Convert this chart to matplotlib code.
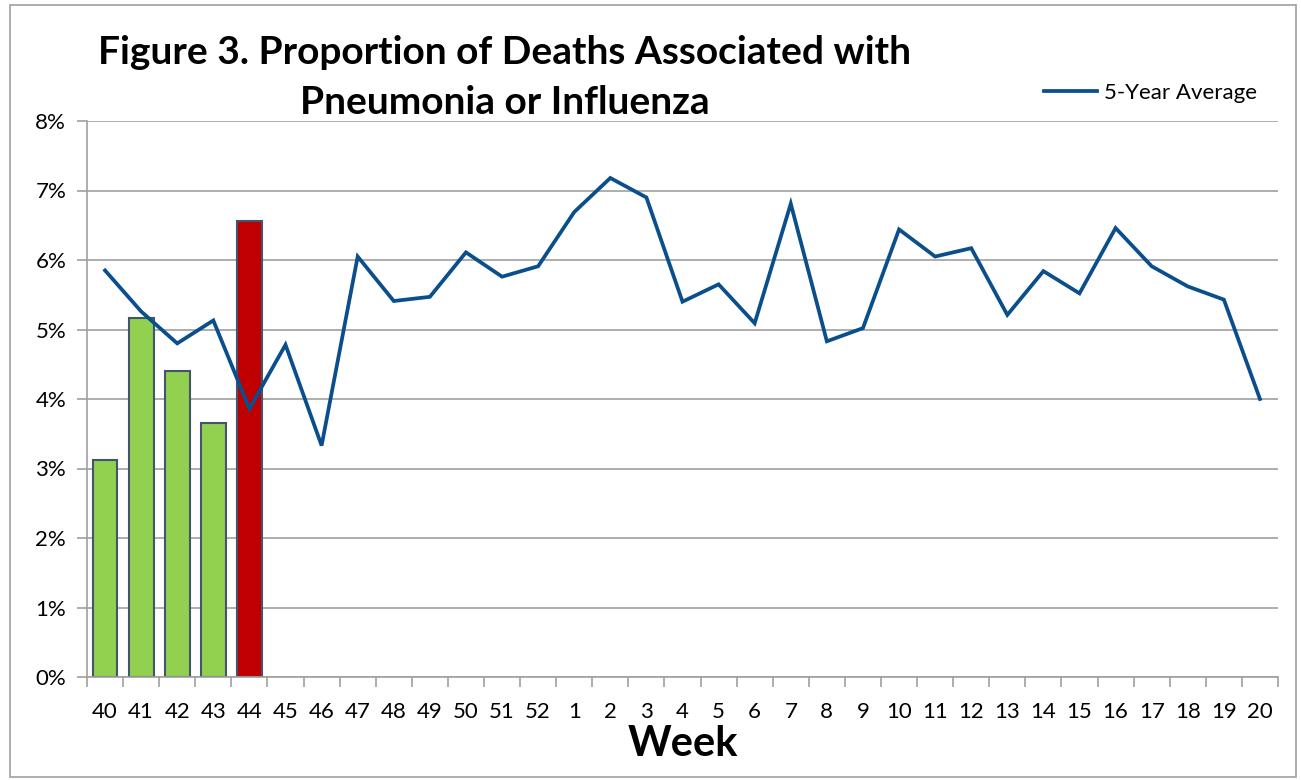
import matplotlib
matplotlib.use("Agg")
import matplotlib.pyplot as plt
from matplotlib.patches import Rectangle
from matplotlib.ticker import FuncFormatter, MultipleLocator
import numpy as np

weeks = ["40", "41", "42", "43", "44", "45", "46", "47", "48", "49", "50", "51", "52",
         "1", "2", "3", "4", "5", "6", "7", "8", "9", "10", "11", "12", "13", "14",
         "15", "16", "17", "18", "19", "20"]
current_season = [3.12, 5.17, 4.41, 3.66, 6.56]
bar_colors = ["#92d050", "#92d050", "#92d050", "#92d050", "#c00000"]
five_year_avg = [5.85, 5.26, 4.80, 5.13, 3.86, 4.78, 3.33, 6.05, 5.41, 5.47, 6.11, 5.76,
                 5.91, 6.69, 7.18, 6.90, 5.40, 5.65, 5.09, 6.81, 4.83, 5.02, 6.44, 6.05,
                 6.17, 5.21, 5.84, 5.52, 6.46, 5.91, 5.62, 5.43, 4.00]

plt.rcParams['font.family'] = ['Lato', 'DejaVu Sans']

fig = plt.figure(figsize=(13.01, 7.80), dpi=100)
ax = fig.add_axes([87/1301, 103/780, (1278-87)/1301, (677-121)/780])

x = np.arange(len(weeks))
ax.bar(x[:len(current_season)], current_season, width=0.69, color=bar_colors,
       edgecolor="#44546a", linewidth=1.5, zorder=2)
line, = ax.plot(x, five_year_avg, color="#0a4f8c", linewidth=2.7, zorder=3,
                solid_joinstyle="miter")

ax.set_xlim(-0.5, len(weeks) - 0.5)
ax.set_ylim(0, 8)
ax.yaxis.set_major_locator(MultipleLocator(1))
ax.yaxis.set_major_formatter(FuncFormatter(lambda v, p: f"{int(round(v))}%"))
ax.grid(axis="y", color="#a0a0a0", linewidth=1.2, zorder=0)
ax.set_axisbelow(True)

ax.set_xticks(x)
ax.set_xticklabels(weeks, fontsize=16)
ax.set_xticks(np.arange(-0.5, len(weeks)), minor=True)
ax.tick_params(axis="x", which="major", length=0, pad=18)
ax.tick_params(axis="x", which="minor", length=7, color="#a0a0a0", width=1.2)
ax.tick_params(axis="y", length=7, color="#a0a0a0", width=1.2, labelsize=16, pad=8)

for s in ["top", "right"]:
    ax.spines[s].set_visible(False)
for s in ["left", "bottom"]:
    ax.spines[s].set_color("#a0a0a0")
    ax.spines[s].set_linewidth(1.2)

ax.set_xlabel("Week", fontsize=30, fontweight="bold", labelpad=2)

fig.text(505/1301, 1 - 52/780, "Figure 3. Proportion of Deaths Associated with",
         ha="center", va="center", fontsize=28, fontweight="bold")
fig.text(505/1301, 1 - 103/780, "Pneumonia or Influenza",
         ha="center", va="center", fontsize=28, fontweight="bold")

leg = fig.legend([line], ["5-Year Average"], loc="center", bbox_to_anchor=(1150/1301, 1 - 93/780),
                 frameon=False, fontsize=16, handlelength=2.4, handletextpad=0.3)

fig.patches.append(Rectangle((10/1301, 3/780), 1286/1301, 772/780, transform=fig.transFigure,
                             fill=False, edgecolor="#a0a0a0", linewidth=1.2))

fig.savefig("out.png", dpi=100)
